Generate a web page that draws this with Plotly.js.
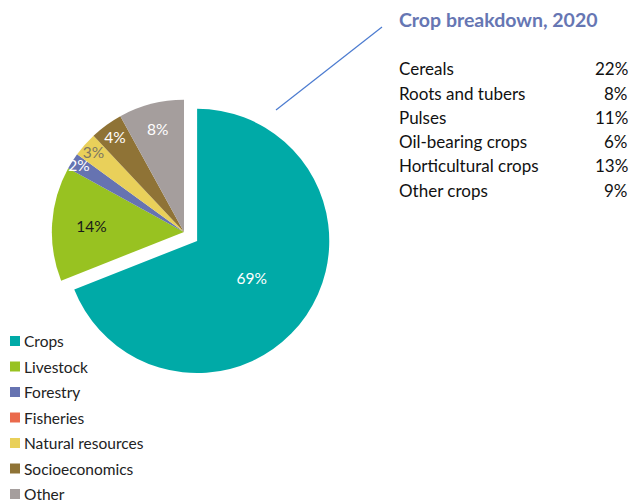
<!DOCTYPE html>
<html>
<head>
<meta charset="utf-8">
<script src="https://cdn.plot.ly/plotly-3.0.1.min.js"></script>
<style>html,body{margin:0;padding:0;background:#fff;}#chart{width:632px;height:501px;}</style>
</head>
<body>
<div id="chart"></div>
<script>
// ---- data ----
var categories = ['Crops', 'Livestock', 'Forestry', 'Fisheries', 'Natural resources', 'Socioeconomics', 'Other'];
var shares = [69, 14, 2, 0, 3, 4, 8];
var sliceColors = ['#00aaa7', '#98c221', '#6673b1', '#ea6a4c', '#e9d05a', '#8f7336', '#a59e9d'];
var labelColors = ['#ffffff', '#1a1a1a', '#ffffff', '#ffffff', '#7d7762', '#ffffff', '#ffffff'];
var pulls = [0.12, 0, 0, 0, 0, 0, 0];

var breakdownTitle = 'Crop breakdown, 2020';
var cropTypes = ['Cereals', 'Roots and tubers', 'Pulses', 'Oil-bearing crops', 'Horticultural crops', 'Other crops'];
var cropShares = [22, 8, 11, 6, 13, 9];

// ---- layout helpers ----
var W = 632, H = 501;
function px(x) { return x / W; }
function py(y) { return 1 - y / H; }
var FONT = 'Lato, "Open Sans", sans-serif';

var pieText = shares.map(function (v) { return v > 0 ? v + '%' : ''; });

var trace = {
  type: 'pie',
  labels: categories,
  values: shares,
  text: pieText,
  textinfo: 'text',
  textposition: 'inside',
  insidetextorientation: 'horizontal',
  insidetextfont: { family: FONT, size: 15.5, color: labelColors },
  marker: { colors: sliceColors, line: { width: 0 } },
  pull: pulls,
  sort: false,
  direction: 'clockwise',
  rotation: 0,
  showlegend: false,
  hoverinfo: 'label+percent',
  domain: { x: [px(36), px(332)], y: [py(380), py(84)] }
};

var annotations = [];
var shapes = [];

// title of breakdown
annotations.push({
  xref: 'paper', yref: 'paper', x: px(397), y: py(20),
  xanchor: 'left', yanchor: 'middle', showarrow: false,
  text: '<b>' + breakdownTitle + '</b>',
  font: { family: FONT, size: 19.5, color: '#6676b3' }
});

// breakdown table
cropTypes.forEach(function (name, i) {
  var y = 69 + i * 24.2;
  annotations.push({
    xref: 'paper', yref: 'paper', x: px(397), y: py(y),
    xanchor: 'left', yanchor: 'middle', showarrow: false,
    text: name, font: { family: FONT, size: 17, color: '#111111' }
  });
  annotations.push({
    xref: 'paper', yref: 'paper', x: px(630), y: py(y),
    xanchor: 'right', yanchor: 'middle', showarrow: false,
    text: cropShares[i] + '%', font: { family: FONT, size: 17, color: '#111111' }
  });
});

// connector line
shapes.push({
  type: 'line', xref: 'paper', yref: 'paper',
  x0: px(276), y0: py(110), x1: px(382), y1: py(27),
  line: { color: '#4b7bd0', width: 1.2 }
});

// legend
categories.forEach(function (name, i) {
  var y = 341 + i * 25.5;
  shapes.push({
    type: 'rect', xref: 'paper', yref: 'paper',
    x0: px(10), x1: px(20), y0: py(y + 5), y1: py(y - 5),
    fillcolor: sliceColors[i], line: { width: 0 }
  });
  annotations.push({
    xref: 'paper', yref: 'paper', x: px(22), y: py(y),
    xanchor: 'left', yanchor: 'middle', showarrow: false,
    text: name, font: { family: FONT, size: 15.5, color: '#222222' }
  });
});

var layout = {
  width: W, height: H,
  margin: { l: 0, r: 0, t: 0, b: 0 },
  paper_bgcolor: '#ffffff',
  plot_bgcolor: '#ffffff',
  showlegend: false,
  uniformtext: { mode: 'show', minsize: 15.5 },
  annotations: annotations,
  shapes: shapes,
  font: { family: FONT }
};

Plotly.newPlot('chart', [trace], layout, { displayModeBar: false, staticPlot: true });
</script>
</body>
</html>
